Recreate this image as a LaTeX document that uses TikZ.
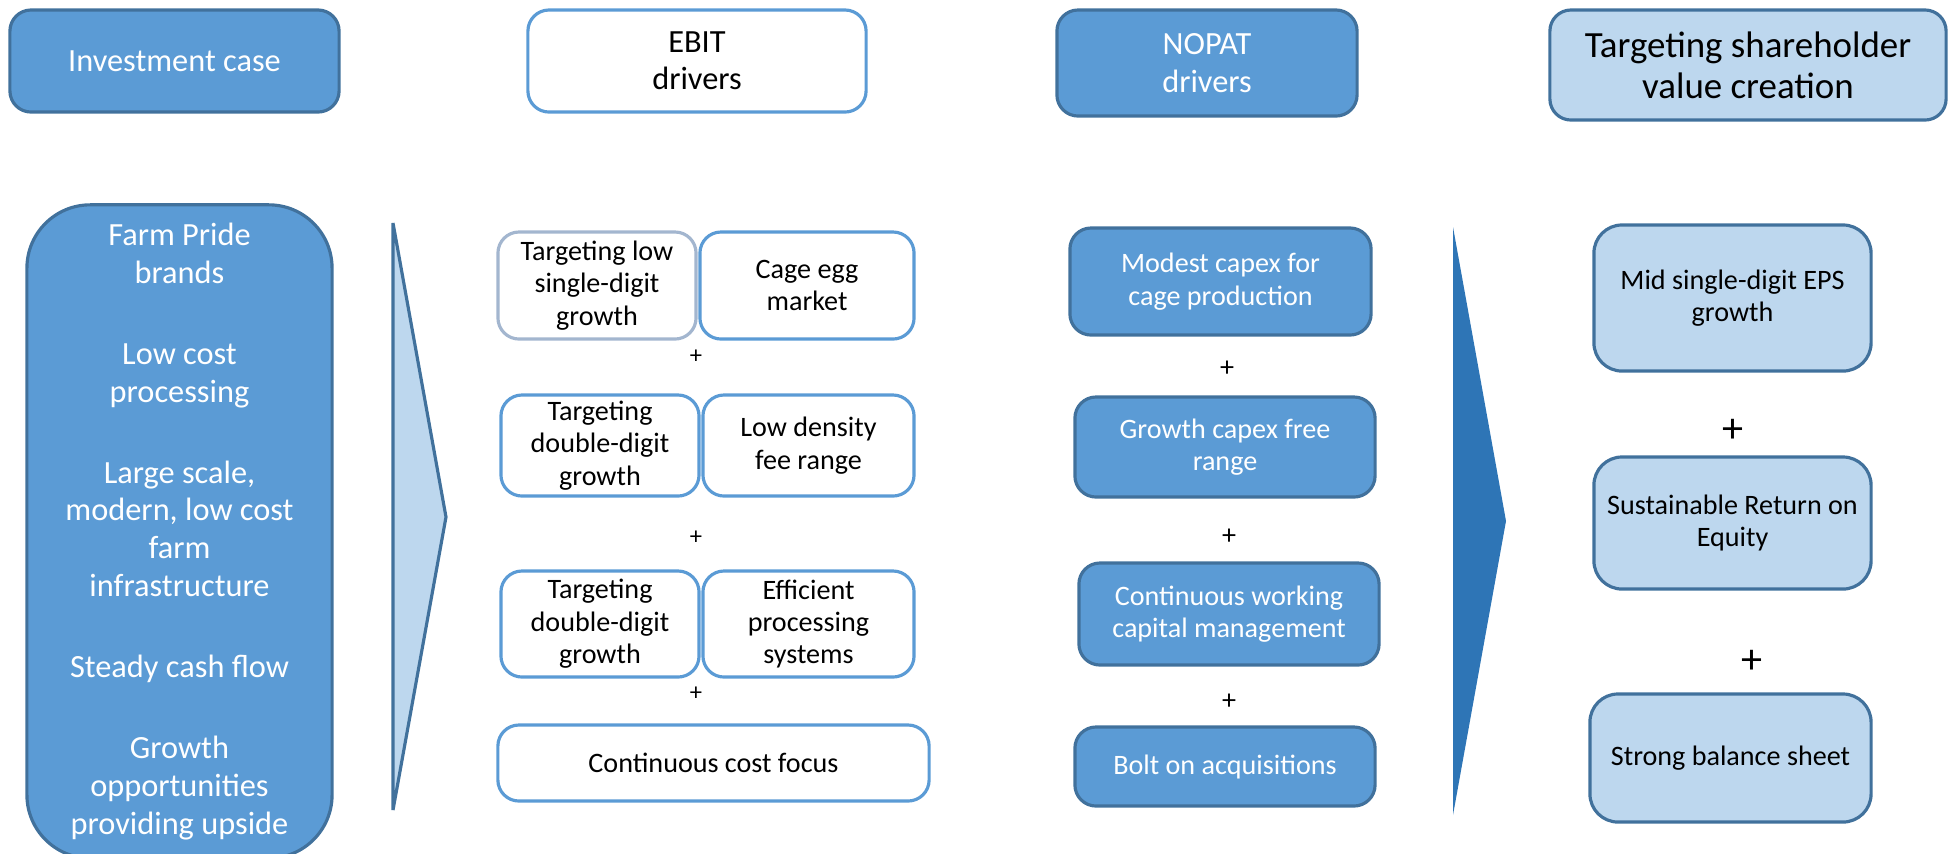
\documentclass[tikz,border=0pt]{standalone}
\usepackage{fontspec}
\setmainfont{Carlito}
\definecolor{midblue}{HTML}{5B9BD5}
\definecolor{edgeblue}{HTML}{41719C}
\definecolor{paleblue}{HTML}{BDD7EE}
\definecolor{deepblue}{HTML}{2E75B6}
\definecolor{greyedge}{HTML}{A3B6CF}
\tikzset{
  boxdark/.style={draw=edgeblue, fill=midblue, text=white, line width=0.9pt, rounded corners=6pt, align=center, inner sep=1pt},
  boxwhite/.style={draw=midblue, fill=white, line width=0.9pt, rounded corners=6pt, align=center, inner sep=1pt},
  boxlight/.style={draw=edgeblue, fill=paleblue, line width=0.9pt, rounded corners=8pt, align=center, inner sep=1pt},
  titletext/.style={font=\fontsize{9.2}{10.6}\selectfont},
  plussign/.style={inner sep=0pt, font=\fontsize{8}{9}\selectfont}
}
\begin{document}
\begin{tikzpicture}[x=0.01cm, y=-0.01cm, font=\fontsize{8}{9.2}\selectfont]
\useasboundingbox (0,0) rectangle (1948,853);

% headings
\node[boxdark, titletext, minimum width=3.29cm, minimum height=1.02cm] (inv) at (174.5,61) {Investment case};
\node[boxwhite, titletext, minimum width=3.38cm, minimum height=1.02cm] (ebit) at (697,61) {EBIT\\drivers};
\node[boxdark, titletext, minimum width=3.00cm, minimum height=1.06cm] (nopat) at (1207,63) {NOPAT\\drivers};
\node[boxlight, rounded corners=6pt, font=\fontsize{10.5}{11.7}\selectfont, minimum width=3.96cm, minimum height=1.10cm] (tsvc) at (1748,65) {Targeting shareholder\\value creation};

% investment case
\node[boxdark, rounded corners=18pt, titletext, font=\fontsize{9.2}{10.8}\selectfont, minimum width=3.05cm, minimum height=6.53cm] (farm) at (179.5,531.5)
  {Farm Pride\\brands\\[12.2pt]Low cost\\processing\\[12.2pt]Large scale,\\modern, low cost\\farm\\infrastructure\\[12.2pt]Steady cash flow\\[12.2pt]Growth\\opportunities\\providing upside};

\draw[draw=edgeblue, fill=paleblue, line width=0.9pt] (393,223) -- (446,517) -- (393,810) -- cycle;

% EBIT drivers
\node[boxwhite, draw=greyedge, minimum width=1.98cm, minimum height=1.07cm] (tlow) at (597,285.5) {Targeting low\\single-digit\\growth};
\node[boxwhite, minimum width=2.14cm, minimum height=1.07cm] (cage) at (807,285.5) {Cage egg\\market};
\node[plussign, font=\fontsize{7}{8}\selectfont] (pa) at (696,357) {+};
\node[boxwhite, minimum width=1.98cm, minimum height=1.01cm] (tdda) at (600,445.5) {Targeting\\double-digit\\growth};
\node[boxwhite, minimum width=2.11cm, minimum height=1.01cm] (lowd) at (808.5,445.5) {Low density\\fee range};
\node[plussign, font=\fontsize{7}{8}\selectfont] (pb) at (696,538) {+};
\node[boxwhite, minimum width=1.98cm, minimum height=1.06cm] (tddb) at (600,624) {Targeting\\double-digit\\growth};
\node[boxwhite, minimum width=2.11cm, minimum height=1.06cm] (eff) at (808.5,624) {Efficient\\processing\\systems};
\node[plussign, font=\fontsize{7}{8}\selectfont] (pc) at (696,694) {+};
\node[boxwhite, minimum width=4.31cm, minimum height=0.76cm] (ccf) at (713.5,763) {Continuous cost focus};

% NOPAT drivers
\node[boxdark, minimum width=3.01cm, minimum height=1.07cm] (mcap) at (1220.5,281.5) {Modest capex for\\cage production};
\node[plussign] (pd) at (1227,369) {+};
\node[boxdark, minimum width=3.00cm, minimum height=1.00cm] (gcap) at (1225,447) {Growth capex free\\range};
\node[plussign] (pe) at (1229,537) {+};
\node[boxdark, minimum width=3.00cm, minimum height=1.02cm] (cwc) at (1229,614) {Continuous working\\capital management};
\node[plussign] (pf) at (1229,702) {+};
\node[boxdark, minimum width=3.00cm, minimum height=0.79cm] (bolt) at (1225,766.5) {Bolt on acquisitions};

\fill[deepblue] (1453,227) -- (1506,521) -- (1453,815) -- cycle;

% shareholder value
\node[boxlight, minimum width=2.77cm, minimum height=1.46cm] (mid) at (1732.5,298) {Mid single-digit EPS\\growth};
\node[plussign, font=\fontsize{12}{13}\selectfont] (pg) at (1733,431) {+};
\node[boxlight, minimum width=2.77cm, minimum height=1.32cm] (sus) at (1732.5,523) {Sustainable Return on\\Equity};
\node[plussign, font=\fontsize{12}{13}\selectfont] (ph) at (1752,662) {+};
\node[boxlight, minimum width=2.81cm, minimum height=1.28cm] (strong) at (1730.5,758) {Strong balance sheet};
\end{tikzpicture}
\end{document}
